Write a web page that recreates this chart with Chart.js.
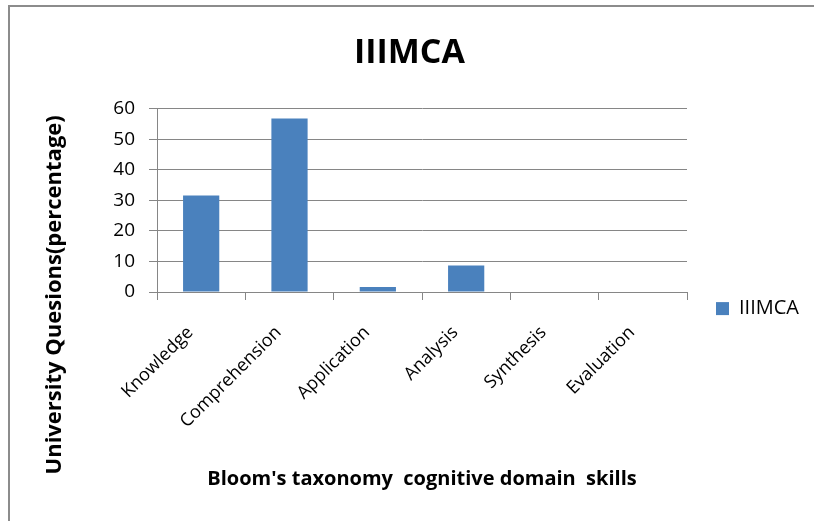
<!DOCTYPE html>
<html>
<head>
<meta charset="utf-8">
<title>IIIMCA</title>
<script src="https://cdn.jsdelivr.net/npm/chart.js@4"></script>
<style>
    html, body { margin: 0; padding: 0; background: #fff; overflow: hidden; }
    #frame {
        position: absolute; left: 8px; top: 5px;
        width: 804px; height: 514px;
        border-left: 2px solid #8c8c8c; border-top: 2px solid #8c8c8c;
    }
    #chartBox { position: absolute; left: 0; top: 0; width: 804px; height: 514px; }
</style>
</head>
<body>
<div id="frame"><div id="chartBox"><canvas id="bloomChart"></canvas></div></div>
<script>
// data
const categories = ['Knowledge', 'Comprehension', 'Application', 'Analysis', 'Synthesis', 'Evaluation'];
const seriesName = 'IIIMCA';
const seriesValues = [31.6, 56.8, 1.6, 8.7, 0, 0];
const yTicks = [0, 10, 20, 30, 40, 50, 60];
const chartTitle = 'IIIMCA';
const xTitle = "Bloom's taxonomy  cognitive domain  skills";
const yTitle = 'University Quesions(percentage)';

const FONT = '"Open Sans", "Noto Sans", sans-serif';
const GRID = '#868686';

// y title is centred on the whole left side, not only on the plot, so draw it by hand
const yTitlePlugin = {
    id: 'yTitle',
    afterDraw(chart) {
        const ctx = chart.ctx;
        ctx.save();
        ctx.translate(45, chart.height * 0.56);
        ctx.rotate(-Math.PI / 2);
        ctx.font = 'bold 22px ' + FONT;
        ctx.fillStyle = '#000';
        ctx.textAlign = 'center';
        ctx.textBaseline = 'middle';
        ctx.fillText(yTitle, 0, 0);
        ctx.restore();
    }
};

document.addEventListener('DOMContentLoaded', () => {
    const ctx = document.getElementById('bloomChart');
    new Chart(ctx, {
        type: 'bar',
        data: {
            labels: categories,
            datasets: [{
                label: seriesName,
                data: seriesValues,
                backgroundColor: '#4a81bd',
                borderWidth: 0,
                categoryPercentage: 1.0,
                barPercentage: 0.41
            }]
        },
        options: {
            responsive: true,
            maintainAspectRatio: false,
            animation: false,
            layout: { padding: { left: 0, right: 5, top: 0, bottom: 0 } },
            plugins: {
                title: {
                    display: true,
                    text: chartTitle,
                    color: '#000',
                    font: { family: FONT, size: 34, weight: 'bold' },
                    padding: { top: 26, bottom: 35 }
                },
                legend: {
                    position: 'right',
                    title: {
                        display: true,
                        text: ' ',
                        font: { size: 1 },
                        padding: { top: 88, bottom: 0 }
                    },
                    labels: {
                        color: '#000',
                        font: { family: FONT, size: 20 },
                        boxWidth: 13,
                        boxHeight: 13,
                        padding: 29
                    }
                },
                tooltip: { enabled: false }
            },
            scales: {
                x: {
                    afterFit(scale) { scale.height = 229; },
                    grid: {
                        offset: true,
                        drawOnChartArea: false,
                        drawTicks: true,
                        tickLength: 8,
                        color: GRID
                    },
                    border: { color: GRID },
                    ticks: {
                        color: '#000',
                        font: { family: FONT, size: 18 },
                        maxRotation: 45,
                        minRotation: 45,
                        padding: 22,
                        labelOffset: -11
                    },
                    title: {
                        display: true,
                        text: xTitle,
                        color: '#000',
                        font: { family: FONT, size: 20, weight: 'bold' },
                        padding: { top: 0, bottom: 30 }
                    }
                },
                y: {
                    min: 0,
                    max: 60,
                    afterFit(scale) { scale.width = 147; },
                    afterBuildTicks(scale) { scale.ticks = yTicks.map(v => ({ value: v })); },
                    grid: {
                        color: GRID,
                        drawTicks: true,
                        tickLength: 8
                    },
                    border: { color: GRID },
                    ticks: {
                        color: '#000',
                        font: { family: FONT, size: 19 },
                        padding: 14
                    }
                }
            }
        },
        plugins: [yTitlePlugin]
    });
});
</script>
</body>
</html>
